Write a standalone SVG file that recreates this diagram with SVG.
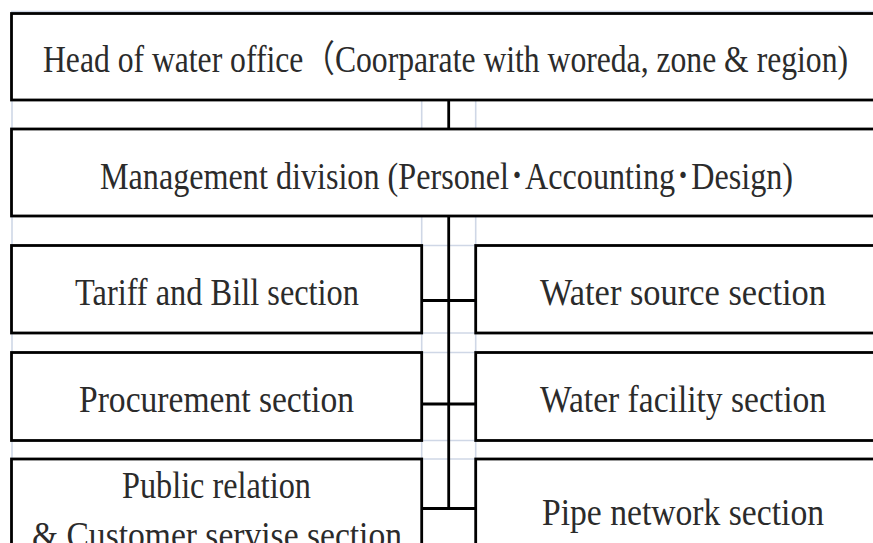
<svg xmlns="http://www.w3.org/2000/svg" width="873" height="543" viewBox="0 0 873 543">
  <style>
    .box{fill:#fff;stroke:#000;stroke-width:2.8}
    .grid{stroke:#cfd7e6;stroke-width:1.6;fill:none}
    .conn{stroke:#000;stroke-width:2.8;fill:none}
    .lbl{font-family:"Liberation Serif","Noto Sans CJK JP",serif;font-size:37px;fill:#2b2b2b;text-anchor:middle}
  </style>

  <!-- faint table gridlines -->
  <g id="gridlines" class="grid">
    <line x1="11" y1="11.5" x2="873" y2="11.5"/>
    <line x1="12" y1="100" x2="12" y2="543"/>
    <line x1="421.7" y1="100" x2="421.7" y2="543"/>
    <line x1="475.7" y1="100" x2="475.7" y2="543"/>
    <line x1="421.7" y1="245.5" x2="475.7" y2="245.5"/>
    <line x1="421.7" y1="333" x2="475.7" y2="333"/>
    <line x1="421.7" y1="352.5" x2="475.7" y2="352.5"/>
    <line x1="421.7" y1="440.5" x2="475.7" y2="440.5"/>
    <line x1="421.7" y1="459" x2="475.7" y2="459"/>
  </g>

  <g id="head">
    <rect class="box" x="11.5" y="13.5" width="900" height="86.5"/>
    <text class="lbl" x="445.5" y="72" textLength="805" lengthAdjust="spacingAndGlyphs">Head of water office（Coorparate with woreda, zone &amp; region)</text>
  </g>

  <g id="management">
    <rect class="box" x="11.5" y="129" width="900" height="87"/>
    <text class="lbl" x="446.5" y="189" textLength="693" lengthAdjust="spacingAndGlyphs">Management division (Personel･Accounting･Design)</text>
  </g>

  <g id="tariff">
    <rect class="box" x="11.5" y="245.5" width="410.2" height="87.5"/>
    <text class="lbl" x="217" y="305" textLength="284" lengthAdjust="spacingAndGlyphs">Tariff and Bill section</text>
  </g>

  <g id="water-source">
    <rect class="box" x="475.7" y="245.5" width="430" height="87.5"/>
    <text class="lbl" x="683" y="305" textLength="286" lengthAdjust="spacingAndGlyphs">Water source section</text>
  </g>

  <g id="procurement">
    <rect class="box" x="11.5" y="352.5" width="410.2" height="88"/>
    <text class="lbl" x="216.5" y="412" textLength="275" lengthAdjust="spacingAndGlyphs">Procurement section</text>
  </g>

  <g id="water-facility">
    <rect class="box" x="475.7" y="352.5" width="430" height="88"/>
    <text class="lbl" x="683" y="412" textLength="286" lengthAdjust="spacingAndGlyphs">Water facility section</text>
  </g>

  <g id="public-relation">
    <rect class="box" x="11.5" y="459" width="410.2" height="120"/>
    <text class="lbl" x="216.5" y="498.3" textLength="189" lengthAdjust="spacingAndGlyphs">Public relation</text>
    <text class="lbl" x="217" y="548" textLength="370" lengthAdjust="spacingAndGlyphs">&amp; Customer servise section</text>
  </g>

  <g id="pipe-network">
    <rect class="box" x="475.7" y="459" width="430" height="120"/>
    <text class="lbl" x="683" y="525" textLength="282" lengthAdjust="spacingAndGlyphs">Pipe network section</text>
  </g>

  <!-- trunk line and branches -->
  <g id="connectors" class="conn">
    <line x1="448.7" y1="100" x2="448.7" y2="129"/>
    <line x1="448.7" y1="216" x2="448.7" y2="508.5"/>
    <line x1="421.7" y1="300.5" x2="475.7" y2="300.5"/>
    <line x1="421.7" y1="404" x2="475.7" y2="404"/>
    <line x1="421.7" y1="508.5" x2="475.7" y2="508.5"/>
  </g>
</svg>
